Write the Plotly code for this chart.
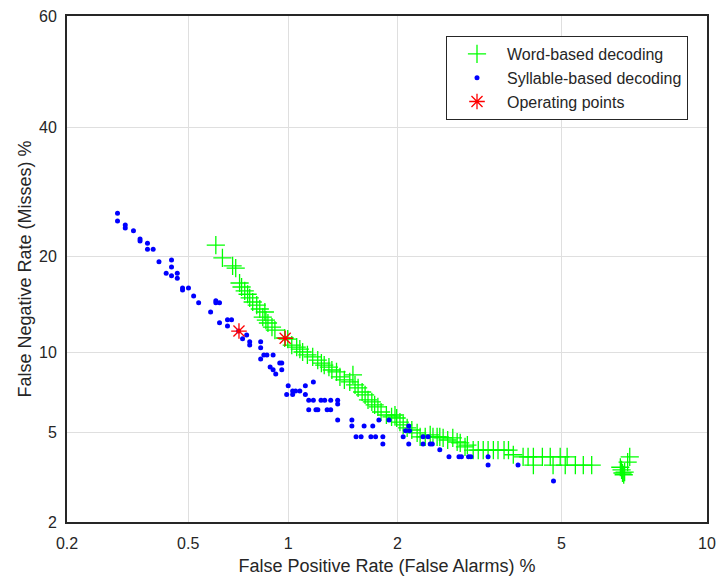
import plotly.graph_objects as go
from statistics import NormalDist

# ---------------- data (percent) ----------------
word_fpr = [0.609, 0.638, 0.685, 0.70, 0.719, 0.729, 0.745, 0.76, 0.771, 0.787, 0.809, 0.826, 0.855, 0.843,
            0.861, 0.873, 0.897, 0.915, 0.977, 0.997, 1.024, 1.058, 1.08, 1.10, 1.135, 1.175, 1.214, 1.243,
            1.266, 1.305, 1.33, 1.37, 1.40, 1.44, 1.49, 1.52, 1.54, 1.57, 1.61, 1.64, 1.67, 1.71, 1.74, 1.775,
            1.81, 1.87, 1.93, 1.97, 1.99, 2.03, 2.07, 2.12, 2.18, 2.25, 2.29, 2.36, 2.43, 2.47, 2.53, 2.57,
            2.62, 2.69, 2.77, 2.84, 2.89, 2.97, 3.01, 3.11, 3.20, 3.29, 3.38, 3.48, 3.57, 3.69, 3.78, 3.88,
            4.09, 4.20, 4.32, 4.53, 4.72, 4.97, 5.15, 4.32, 4.79, 5.10, 5.37, 5.59, 5.83, 6.75, 6.78, 6.85,
            7.02, 6.95, 6.71, 6.82]
word_fnr = [21.45, 19.77, 18.77, 18.5, 16.75, 16.3, 15.86, 15.5, 15.1, 14.67, 14.35, 13.95, 13.65, 13.15,
            12.85, 12.58, 12.2, 11.93, 11.22, 11.13, 10.62, 10.45, 10.28, 10.05, 9.82, 9.66, 9.42, 9.19,
            9.04, 8.89, 8.68, 8.54, 8.19, 7.99, 7.86, 8.33, 7.66, 7.46, 7.2, 7.02, 6.72, 6.6, 6.43, 6.31,
            6.03, 5.87, 5.77, 5.87, 5.71, 5.5, 5.36, 5.21, 5.11, 4.97, 4.79, 4.79, 4.88, 4.79, 4.79, 4.79,
            4.74, 4.65, 4.74, 4.56, 4.52, 4.35, 4.43, 4.22, 4.22, 4.22, 4.22, 4.22, 4.22, 4.22, 4.22, 4.03,
            3.95, 3.95, 3.95, 3.95, 3.95, 3.95, 3.95, 3.64, 3.64, 3.64, 3.64, 3.64, 3.64, 3.47, 3.36, 3.39,
            3.95, 3.75, 3.56, 3.30]

syl_fpr = [0.296, 0.296, 0.314, 0.314, 0.334, 0.351, 0.351, 0.371, 0.371, 0.387, 0.404, 0.443, 0.443, 0.426,
           0.443, 0.462, 0.462, 0.480, 0.480, 0.501, 0.52, 0.539, 0.609, 0.609, 0.625, 0.587, 0.661, 0.680,
           0.625, 0.661, 0.714, 0.734, 0.755, 0.771, 0.771, 0.831, 0.831, 0.849, 0.867, 0.904, 0.831, 0.886,
           0.904, 0.92, 0.945, 0.958, 0.958, 1.0, 0.99, 1.03, 1.03, 1.05, 1.08, 1.12, 1.12, 1.18, 1.145,
           1.18, 1.24, 1.27, 1.32, 1.38, 1.38, 1.145, 1.2, 1.215, 1.29, 1.32, 1.38, 1.51, 1.51, 1.63, 1.72,
           1.786, 1.90, 1.55, 1.60, 1.70, 1.75, 1.83, 1.83, 2.07, 2.10, 2.15, 2.14, 2.14, 2.33, 2.40, 2.33,
           2.43, 2.46, 2.57, 2.71, 2.87, 2.91, 3.03, 3.07, 3.38, 3.38, 3.98, 4.80]
syl_fnr = [25.9, 24.8, 24.2, 23.8, 23.4, 22.25, 22.0, 21.7, 20.9, 20.9, 19.3, 19.5, 18.65, 17.9,
           17.6, 17.9, 17.3, 16.2, 15.95, 16.2, 15.3, 14.6, 14.8, 14.6, 14.6, 13.65, 12.9, 12.9,
           12.6, 12.3, 11.85, 11.15, 11.48, 10.9, 10.63, 10.9, 10.4, 9.82, 9.82, 9.82, 9.5, 8.9,
           8.7, 8.4, 9.2, 9.2, 8.7, 7.6, 7.04, 7.04, 7.26, 7.26, 7.26, 7.6, 7.04, 7.85, 6.7,
           6.7, 6.7, 6.7, 6.7, 6.7, 6.48, 6.15, 6.15, 6.15, 6.15, 6.15, 5.61, 5.61, 5.3, 5.3, 5.3,
           5.61, 5.61, 4.79, 4.79, 4.79, 4.79, 4.79, 4.47, 4.79, 5.07, 5.07, 5.3, 4.47, 4.79, 4.79, 4.47,
           4.47, 4.47, 4.23, 3.95, 3.95, 3.95, 3.95, 3.95, 3.95, 3.64, 3.64, 3.10]

op_fpr = [0.716, 0.98]
op_fnr = [11.84, 11.2]

x_ticks = [0.2, 0.5, 1, 2, 5, 10]
y_ticks = [2, 5, 10, 20, 40, 60]
x_lim = [0.2, 10]
y_lim = [2, 60]

# ---------------- probit transform ----------------
_nd = NormalDist()


def probit(vals):
    return [_nd.inv_cdf(v / 100.0) for v in vals]


def fmt(v):
    return ("%g" % v)


TXT = "#262626"
FONT = "Liberation Sans, Arial, Helvetica, sans-serif"

fig = go.Figure()
fig.add_trace(go.Scatter(
    x=probit(word_fpr), y=probit(word_fnr), mode="markers", name="Word-based decoding",
    legendgroup="a",
    marker=dict(symbol="cross-thin-open", size=13, color="#00ff00",
                line=dict(color="#00ff00", width=1.3)),
))
fig.add_trace(go.Scatter(
    x=probit(syl_fpr), y=probit(syl_fnr), mode="markers", name="Syllable-based decoding",
    legendgroup="b",
    marker=dict(symbol="circle", size=5, color="#0000ff", line=dict(width=0)),
))
fig.add_trace(go.Scatter(
    x=probit(op_fpr), y=probit(op_fnr), mode="markers", name="Operating points",
    legendgroup="c",
    marker=dict(symbol="asterisk-open", size=13, color="#ff0000",
                line=dict(color="#ff0000", width=1.3)),
))

axis_common = dict(
    showline=True, mirror=True, linecolor=TXT, linewidth=1.8,
    showgrid=True, gridcolor="#dfdfdf", gridwidth=1,
    zeroline=False, ticks="", tickfont=dict(size=16, color=TXT, family=FONT),
)

fig.update_xaxes(
    range=probit(x_lim), tickmode="array", tickvals=probit(x_ticks),
    ticktext=[fmt(v) for v in x_ticks],
    title=dict(text="False Positive Rate (False Alarms) %", font=dict(size=18, color=TXT, family=FONT),
               standoff=8),
    ticklabelstandoff=6,
    **axis_common,
)
fig.update_yaxes(
    range=probit(y_lim), tickmode="array", tickvals=probit(y_ticks),
    ticktext=[fmt(v) for v in y_ticks],
    title=dict(text="False Negative Rate (Misses) %", font=dict(size=18, color=TXT, family=FONT),
               standoff=3),
    ticklabelstandoff=5,
    **axis_common,
)

fig.update_layout(
    width=716, height=578,
    margin=dict(l=67, r=9, t=16, b=56, autoexpand=False),
    paper_bgcolor="white", plot_bgcolor="white",
    font=dict(family=FONT, color=TXT),
    showlegend=True,
    legend=dict(
        x=(688 - 67) / 640, y=1 - (36 - 16) / 506, xanchor="right", yanchor="top",
        bgcolor="white", bordercolor=TXT, borderwidth=1,
        font=dict(size=16, color=TXT, family=FONT),
        tracegroupgap=0, itemwidth=50,
    ),
)

fig.write_html("out.html")
